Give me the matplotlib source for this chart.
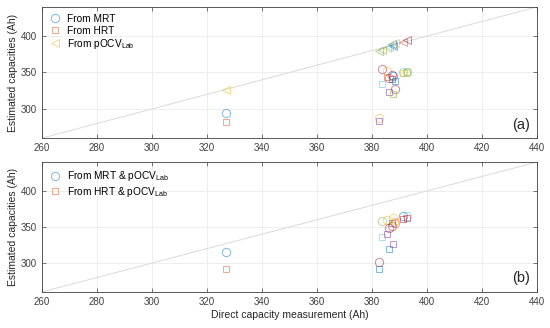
import matplotlib.pyplot as plt

plt.rcParams['font.family'] = ['Liberation Sans', 'DejaVu Sans']
plt.rcParams['mathtext.fontset'] = 'custom'
plt.rcParams['mathtext.rm'] = 'Liberation Sans'
plt.rcParams['mathtext.it'] = 'Liberation Sans:italic'

# MATLAB palette
B = (0, 0.447, 0.741)
O = (0.85, 0.325, 0.098)
Y = (0.929, 0.694, 0.125)
P = (0.494, 0.184, 0.556)
G = (0.466, 0.674, 0.188)
C = (0.301, 0.745, 0.933)
R = (0.635, 0.078, 0.184)

# direct capacity measurement (Ah) per cell
direct = [327, 382.5, 383.8, 385.3, 386.2, 387.2, 387.8, 388.4, 391.3, 392.7]

# (a) estimated capacities
mrt = [294, 287, 355, 352, 343, 347, 345, 327, 350, 351]
hrt = [282, 283, 334, 344, 323, 341, 320, 338, 349, 350]
pocv = [326, 379, 381, 383, 385, 389, 387, 390, 392, 395]
mrt_col = [B, Y, R, Y, P, R, B, R, C, G]
hrt_col = [O, P, C, O, P, R, G, B, Y, G]
pocv_col = [Y, G, G, Y, C, B, B, Y, O, R]

# (b) estimated capacities combined with pOCV_Lab
mrt_pocv = [316, 301, 358, 360, 349, 352, 362, 356, 365, 365]
hrt_pocv = [292, 292, 336, 340, 319, 355, 327, 358, 361, 362]
mrt_pocv_col = [B, R, G, Y, R, R, Y, O, B, C]
hrt_pocv_col = [O, B, C, P, B, P, P, Y, R, R]

lims = [260, 440]
ticks = list(range(260, 441, 20))
sizes = {'o': 6.0, 's': 5.0, '<': 6.0}

fig = plt.figure(figsize=(5.5, 3.28), dpi=100)
ax1 = fig.add_axes([0.0764, 0.579, 0.9, 0.4])
ax2 = fig.add_axes([0.0764, 0.110, 0.9, 0.396])


def draw(ax, series, label_txt):
    ax.plot(lims, lims, color='#dadada', lw=0.7, zorder=1)
    for (vals, cols, marker, label) in series:
        for i, (xv, yv) in enumerate(zip(direct, vals)):
            ax.plot(xv, yv, marker=marker, ls='none', ms=sizes[marker],
                    mfc='none', mec=cols[i], mew=0.7, alpha=0.5,
                    label=label if i == 0 else None, zorder=3)
    ax.set_xlim(lims)
    ax.set_ylim(lims)
    ax.set_xticks(ticks)
    ax.set_yticks([300, 350, 400])
    ax.grid(True, color='#ebebeb', lw=0.6)
    ax.set_axisbelow(True)
    ax.tick_params(direction='in', top=True, right=True, labelsize=7,
                   length=3, width=0.5, colors='#404040')
    for s in ax.spines.values():
        s.set_color('#404040')
        s.set_linewidth(0.6)
    ax.set_ylabel('Estimated capacities (Ah)', fontsize=7.5, color='#262626',
                  labelpad=2)
    ax.legend(loc='upper left', frameon=False, fontsize=7.3, handletextpad=0.6,
              borderaxespad=0.3, labelspacing=0.15, handlelength=1.2)
    ax.text(0.985, 0.05, label_txt, transform=ax.transAxes, ha='right',
            va='bottom', fontsize=10.5, color='#262626')


draw(ax1, [(mrt, mrt_col, 'o', 'From MRT'),
           (hrt, hrt_col, 's', 'From HRT'),
           (pocv, pocv_col, '<', r'From pOCV$_{\mathrm{Lab}}$')], '(a)')
draw(ax2, [(mrt_pocv, mrt_pocv_col, 'o', r'From MRT & pOCV$_{\mathrm{Lab}}$'),
           (hrt_pocv, hrt_pocv_col, 's', r'From HRT & pOCV$_{\mathrm{Lab}}$')], '(b)')
ax2.set_xlabel('Direct capacity measurement (Ah)', fontsize=7.5,
               color='#262626', labelpad=2)

fig.savefig('out.png', dpi=100)
